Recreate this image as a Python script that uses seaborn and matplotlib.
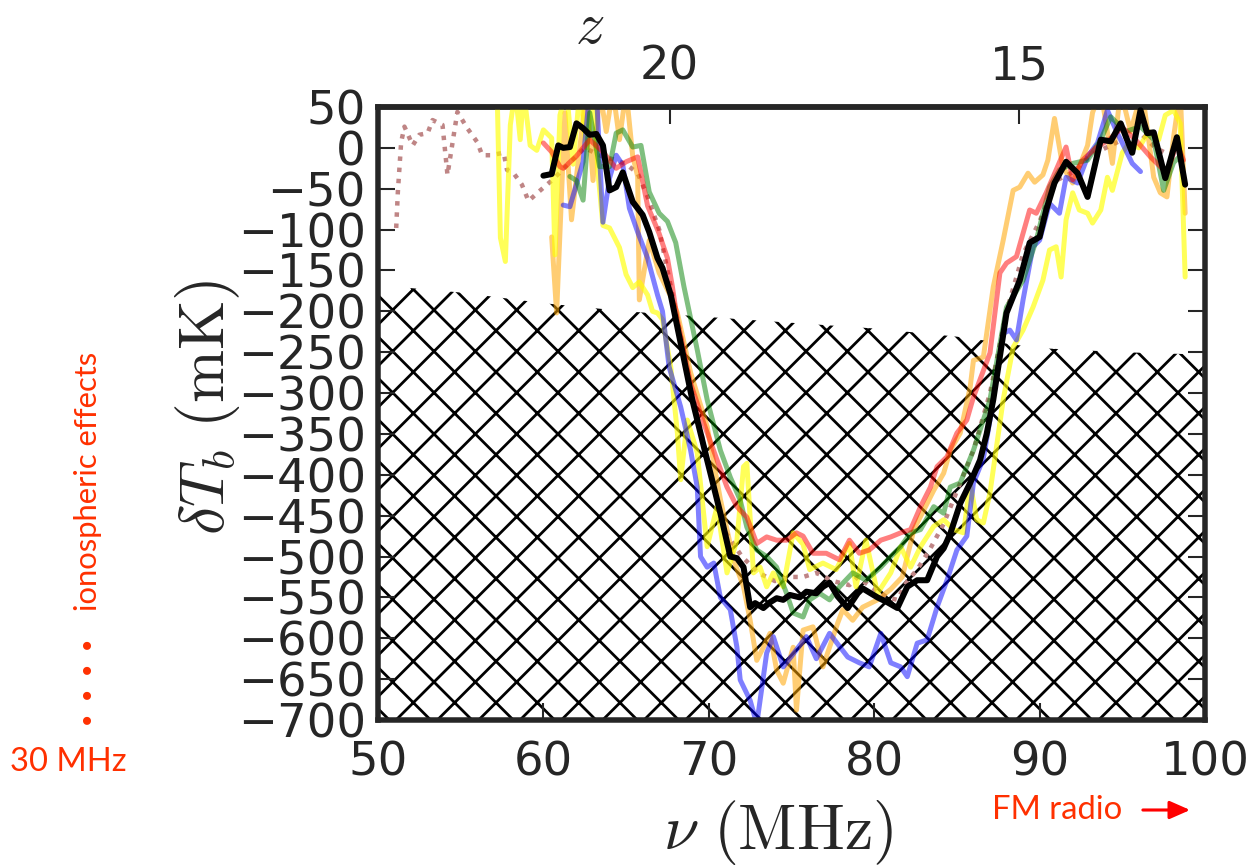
import numpy as np
import pandas as pd
import seaborn as sns
import matplotlib.pyplot as plt

# frequency (MHz) and brightness temperature (mK)
nu_black = [60.0, 60.5, 60.9, 61.2, 61.6, 62.0, 62.4, 62.8, 63.2, 63.6, 64.0, 64.4, 64.8, 65.4, 66.0,
            66.4, 66.9, 67.2, 67.7, 68.3, 69.0, 69.9, 70.7, 71.3, 71.7, 72.1, 72.5, 72.8, 73.3, 73.7,
            74.1, 74.5, 74.9, 75.5, 75.9, 76.5, 76.9, 77.3, 77.8, 78.4, 79.0, 79.3, 80.2, 80.8, 81.4,
            82.0, 82.6, 83.2, 83.8, 84.2, 84.6, 85.2, 85.8, 86.4, 86.8, 87.2, 87.6, 88.0, 88.4, 88.8,
            89.4, 90.0, 90.4, 90.9, 91.6, 92.3, 92.9, 93.7, 94.3, 94.9, 95.6, 96.1, 96.5, 96.9, 97.6,
            98.3, 98.8]
dT_black = [-34, -32, 3, 0, 1, 30, 24, 16, 17, 3, -52, -48, -30, -66, -82,
            -103, -135, -147, -180, -239, -308, -382, -447, -500, -502, -513, -562, -557, -563, -556,
            -551, -553, -547, -550, -543, -545, -537, -532, -549, -563, -545, -539, -550, -556, -563,
            -537, -529, -529, -500, -490, -472, -435, -410, -382, -350, -308, -255, -202, -182, -162,
            -116, -109, -76, -43, -17, -31, -60, 10, 8, 30, -6, 46, 18, 19, -37,
            13, -45]

nu_blue = [61.2, 61.6, 62.4, 62.8, 63.2, 63.6, 64.0, 64.4, 64.8, 65.2, 65.7, 66.3, 66.9, 67.2, 67.6,
           68.3, 68.9, 69.3, 69.5, 69.9, 70.3, 70.7, 71.3, 71.7, 71.9, 72.5, 72.9, 73.5, 73.9, 74.5,
           75.3, 75.9, 76.5, 77.3, 78.4, 79.1, 79.7, 80.4, 81.0, 81.6, 82.0, 82.6, 83.2, 83.8, 84.4,
           85.0, 85.6, 86.0, 86.6, 87.0, 87.8, 88.2, 88.6, 89.0, 89.6, 90.0, 90.6, 91.2, 91.6, 92.3,
           92.9, 93.5, 94.1, 94.7, 95.0, 95.6, 96.1]
dT_blue = [-70, -72, -17, 70, 70, -91, -37, -9, -21, -74, -103, -135, -180, -200, -268,
           -317, -370, -415, -500, -513, -508, -550, -565, -611, -651, -676, -705, -618, -598, -635,
           -614, -598, -625, -594, -623, -630, -635, -594, -630, -635, -647, -606, -602, -562, -529,
           -492, -475, -410, -380, -333, -227, -223, -235, -186, -121, -113, -68, -80, -36, -43,
           -11, 6, 46, 18, 6, -19, -29]

nu_green = [61.6, 62.0, 62.4, 62.8, 63.4, 64.0, 64.4, 64.8, 65.4, 65.9, 66.4, 67.0, 67.5, 68.0, 68.5,
            69.3, 69.9, 70.7, 71.3, 71.9, 72.3, 72.9, 73.5, 74.1, 74.7, 75.1, 75.7, 76.1, 76.7, 77.3,
            77.9, 78.7, 79.5, 80.4, 81.0, 81.6, 82.2, 82.8, 83.6, 84.2, 84.6, 85.2, 86.0, 87.0, 88.0,
            89.0, 89.8, 90.6, 91.2, 92.0, 92.9, 93.7, 94.3, 95.2, 96.1, 96.9, 97.5, 98.1, 98.5]
dT_green = [-35, -40, -64, 43, -23, -23, 18, 22, 1, 3, -54, -80, -90, -116, -170,
            -247, -308, -370, -403, -431, -464, -492, -500, -513, -545, -569, -574, -553, -545, -553,
            -537, -520, -529, -513, -500, -488, -471, -467, -439, -447, -415, -410, -370, -308, -195,
            -162, -113, -48, -27, -19, -15, 10, 38, 20, 26, 10, -52, -18, -10]

nu_red = [60.0, 60.5, 61.0, 61.2, 62.0, 62.8, 63.6, 64.4, 65.0, 65.7, 66.3, 67.0, 67.5, 67.8, 68.1,
          68.9, 69.7, 70.5, 71.1, 71.7, 72.3, 72.9, 73.5, 74.1, 74.7, 75.3, 75.7, 76.3, 77.1, 77.9,
          78.5, 79.1, 79.7, 80.4, 81.0, 81.6, 82.2, 82.8, 83.4, 83.8, 84.4, 85.0, 85.6, 86.0, 87.0,
          87.6, 88.0, 88.6, 89.4, 89.8, 90.4, 91.0, 91.6, 92.0, 92.6, 93.4, 94.2, 95.0, 95.8, 96.7,
          97.7, 98.3, 98.7]
dT_red = [6, -5, -23, -25, -10, 10, -5, -25, -17, -11, -71, -105, -135, -170, -211,
          -288, -337, -382, -415, -439, -452, -484, -476, -480, -480, -471, -475, -496, -496, -504,
          -480, -496, -492, -480, -476, -471, -467, -439, -415, -390, -378, -349, -333, -305, -251,
          -153, -141, -133, -76, -80, -55, -27, 1, -39, -15, 0, 10, 25, 10, -11,
          -31, 6, -15]

nu_orange = [60.5, 60.8, 61.3, 61.7, 62.2, 62.6, 63.0, 63.4, 63.8, 64.2, 64.6, 65.0, 65.4, 65.7, 65.8,
             66.4, 67.0, 67.8, 68.1, 68.9, 69.9, 70.7, 71.5, 72.1, 72.5, 72.9, 73.3, 73.7, 74.1, 74.5,
             75.1, 75.3, 75.7, 76.3, 76.9, 77.8, 78.1, 78.7, 79.3, 80.2, 81.0, 81.7, 82.4, 82.9, 83.6,
             84.2, 84.6, 85.2, 85.8, 86.0, 86.6, 87.2, 87.8, 88.4, 88.8, 89.3, 89.7, 90.2, 90.5, 90.9,
             91.4, 92.0, 92.4, 92.9, 93.2, 93.7, 94.4, 94.9, 95.5, 96.2, 96.9, 97.3, 97.7, 98.1, 98.5,
             98.8]
dT_orange = [-109, -202, 43, -88, 0, 70, -40, 70, 20, 70, 10, 70, -10, -35, -186,
             -113, -153, -186, -202, -275, -341, -430, -504, -537, -578, -627, -611, -594, -639, -655,
             -611, -688, -590, -586, -635, -581, -565, -578, -562, -553, -540, -525, -467, -447, -419,
             -398, -370, -349, -293, -260, -256, -170, -113, -52, -48, -31, -42, -33, -15, 36,
             -23, -43, -23, 3, 43, 70, -19, 70, 20, 70, -36, -55, -60, 13, 70,
             -80]

nu_yellow = [57.2, 57.4, 57.7, 58.0, 58.3, 58.6, 58.8, 59.2, 59.6, 60.0, 60.5, 60.7, 61.0, 61.4, 61.8,
             62.2, 62.6, 63.0, 63.3, 63.6, 64.0, 64.6, 65.0, 65.4, 65.8, 66.3, 66.6, 66.9, 67.2, 67.7,
             68.1, 68.3, 68.7, 69.3, 69.9, 70.5, 71.1, 71.7, 72.1, 72.3, 72.7, 73.1, 73.5, 73.9, 74.5,
             75.1, 75.7, 76.1, 76.9, 77.7, 78.5, 78.9, 79.5, 80.2, 81.0, 81.6, 82.2, 82.8, 83.6, 84.2,
             84.8, 85.4, 85.8, 86.2, 86.6, 87.0, 87.8, 88.4, 89.0, 89.6, 90.2, 90.6, 91.0, 91.3, 91.6,
             92.0, 92.4, 92.9, 93.2, 93.7, 94.1, 94.4, 95.0, 95.4, 96.0, 96.6, 97.2, 97.6, 98.1, 98.5,
             98.8]
dT_yellow = [70, -110, -139, 28, 70, 10, 70, 3, -3, 22, 12, -131, 40, 70, -20,
             70, 0, 70, -30, -95, -98, -122, -155, -171, -164, -180, -200, -202, -210, -268,
             -349, -406, -333, -373, -488, -439, -520, -480, -390, -386, -520, -513, -537, -520, -537,
             -471, -485, -516, -508, -516, -484, -537, -480, -545, -520, -488, -513, -488, -463, -455,
             -467, -471, -410, -455, -459, -422, -308, -244, -223, -195, -162, -125, -121, -158, -88,
             -55, -76, -80, -92, -76, -36, -52, -6, 6, 0, 20, 10, 40, 46, 30,
             -158]

nu_brown = [51.1, 51.2, 51.4, 51.6, 52.1, 52.5, 53.0, 53.3, 53.9, 54.2, 54.8, 55.4, 56.0, 56.3, 56.8,
            57.6, 57.8, 58.2, 58.7, 59.1, 59.7, 60.5, 61.5, 62.5, 63.5, 64.4, 65.0, 65.7, 66.3, 67.0,
            68.0, 69.0, 70.0, 71.0, 72.0, 73.0, 74.0, 75.0, 75.7, 76.5, 77.5, 78.5, 79.0, 80.0, 80.8,
            81.4, 82.0, 82.6, 83.4, 84.2, 85.0, 86.0, 87.0, 88.0, 89.0, 90.0, 91.0, 92.0, 93.0, 94.0,
            95.0, 96.0, 97.0, 98.0, 99.0]
dT_brown = [-98, -54, 7, 26, 3, 16, 18, 34, 28, -33, 44, 24, 7, -9, -9,
            -6, -27, -31, -45, -65, -54, -40, -20, 0, -10, -15, -20, -31, -60, -100,
            -200, -300, -390, -470, -500, -520, -530, -525, -525, -520, -530, -535, -525, -540, -550,
            -553, -530, -516, -490, -460, -420, -370, -300, -200, -130, -90, -40, -30, -10, 0,
            10, 20, 0, -10, -20]

# upper edge of the hatched (excluded) region
nu_excl = [50, 55, 60, 65, 70, 75, 80, 85, 90, 95, 100]
dT_excl = [-168, -177, -190, -200, -207, -214, -221, -231, -245, -250, -253]

DPI = 248
sns.set_style("ticks")
plt.rcParams.update({
    "font.family": ["DejaVu Sans"],
    "mathtext.fontset": "cm",
    "hatch.linewidth": 0.8,
    "axes.linewidth": 1.6,
})

fig = plt.figure(figsize=(1259 / DPI, 865 / DPI), dpi=DPI)
ax = fig.add_axes([378 / 1259, 1 - 720 / 865, 827 / 1259, 613 / 865])

ax.fill_between(nu_excl, -700, dT_excl, facecolor="none", edgecolor="black",
                hatch="xx", linewidth=0, zorder=0.5)

lines = [
    (nu_brown, dT_brown, "#bf8585", 1.0, 1.3, 1.0),
    (nu_orange, dT_orange, "#ffa500", 0.55, 1.45, 2.0),
    (nu_yellow, dT_yellow, "#ffff00", 0.65, 1.45, 2.1),
    (nu_blue, dT_blue, "#0000ff", 0.5, 1.45, 2.2),
    (nu_green, dT_green, "#008000", 0.5, 1.45, 2.3),
    (nu_red, dT_red, "#ff0000", 0.5, 1.45, 2.4),
    (nu_black, dT_black, "black", 1.0, 1.75, 3.0),
]
for nu, dT, col, a, lw, z in lines:
    df = pd.DataFrame({"nu": nu, "dT": dT})
    ls = (0, (1, 1.5)) if col == "#bf8585" else "-"
    sns.lineplot(data=df, x="nu", y="dT", ax=ax, color=col, alpha=a, lw=lw,
                 linestyle=ls, errorbar=None, zorder=z)

ax.set_xlim(50, 100)
ax.set_ylim(-700, 50)
ax.set_xticks(np.arange(50, 101, 10))
ax.set_yticks(np.arange(-700, 51, 50))
ax.tick_params(axis="both", direction="in", length=4.9, width=0.6, labelsize=13.5,
               right=True, top=False)
ax.tick_params(axis="x", pad=6)
ax.tick_params(axis="y", pad=3.5)

secax = ax.secondary_xaxis("top", functions=(lambda n: 1420.4 / n - 1,
                                             lambda zz: 1420.4 / (zz + 1)))
secax.set_xticks([20, 15])
secax.tick_params(direction="in", length=4.9, width=0.6, labelsize=13.5, pad=5)

ax.set_xlabel(r"$\nu\ (\mathrm{MHz})$", fontsize=18.5)
ax.xaxis.set_label_coords(0.484, -0.128)
ax.set_ylabel(r"$\delta T_b\ (\mathrm{mK})$", fontsize=18.5)
ax.yaxis.set_label_coords(-0.165, 0.51)
fig.text(590 / 1259, 1 - 26 / 865, r"$z$", fontsize=17, ha="center", va="center")

red = "#ff3000"
fig.text(88 / 1259, 1 - 481 / 865, "ionospheric effects", rotation=90, color=red,
         fontsize=9, family=["Lato", "DejaVu Sans"], ha="center", va="center")
fig.text(90 / 1259, 1 - 682 / 865, "\u2022 \u2022 \u2022 \u2022", rotation=90, color=red,
         fontsize=8, ha="center", va="center")
fig.text(68 / 1259, 1 - 762 / 865, "30 MHz", color=red, fontsize=9.5,
         family=["Lato", "DejaVu Sans"], ha="center", va="center")
fig.text(1057 / 1259, 1 - 810 / 865, "FM radio", color=red, fontsize=9.5,
         family=["Lato", "DejaVu Sans"], ha="center", va="center")
ax.annotate("", xy=(1197 / 1259, 1 - 810 / 865), xytext=(1136 / 1259, 1 - 810 / 865),
            xycoords="figure fraction", textcoords="figure fraction",
            arrowprops=dict(arrowstyle="-|>,head_length=0.5,head_width=0.22",
                            color="#ff0000", lw=0.9))

fig.savefig("out.png", dpi=DPI)
